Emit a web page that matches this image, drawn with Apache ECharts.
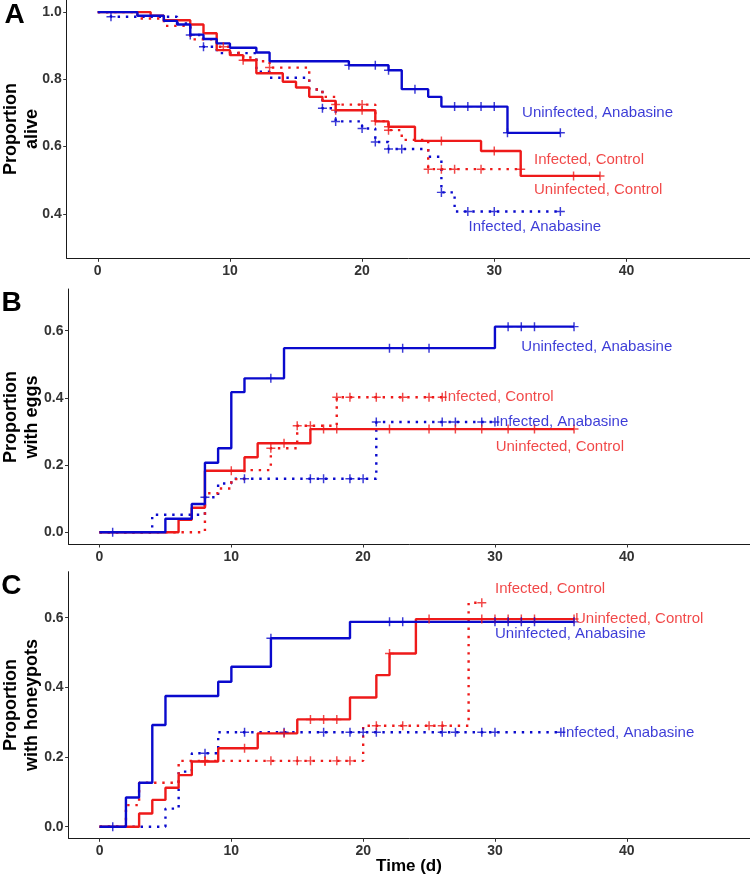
<!DOCTYPE html>
<html><head><meta charset="utf-8">
<script src="https://cdn.jsdelivr.net/npm/echarts/dist/echarts.min.js"></script>
<style>html,body{margin:0;padding:0;background:#fff}#c{width:750px;height:875px}</style>
</head><body><div id="c"></div>
<script>
// ---------- DATA ----------
const groupNames = ['Uninfected, Anabasine', 'Infected, Anabasine', 'Uninfected, Control', 'Infected, Control'];
const xTicks = [0, 10, 20, 30, 40];
const yTicksA = [0.4, 0.6, 0.8, 1.0];
const yTicksB = [0.0, 0.2, 0.4, 0.6];
const yTicksC = [0.0, 0.2, 0.4, 0.6];

// Panel A: proportion alive
const A_uninfAnab_t = [0, 3, 5, 6, 7, 8, 9, 10, 12, 13, 19, 22, 23, 25, 26, 31, 35];
const A_uninfAnab_s = [1.0, 0.989, 0.974, 0.963, 0.933, 0.920, 0.907, 0.894, 0.880, 0.854, 0.842, 0.827, 0.771, 0.748, 0.719, 0.641, 0.641];
const A_uninfAnab_c = [19, 21, 22, 24, 27, 28, 29, 30, 31, 35];
const A_infAnab_t = [0, 1, 6, 7, 8, 9, 12, 13, 16, 17, 18, 20, 21, 22, 25, 26, 27, 35];
const A_infAnab_s = [1.0, 0.986, 0.966, 0.932, 0.897, 0.878, 0.823, 0.805, 0.770, 0.714, 0.675, 0.654, 0.614, 0.593, 0.570, 0.464, 0.407, 0.407];
const A_infAnab_c = [1, 7, 8, 17, 18, 20, 21, 22, 23, 26, 28, 30, 35];
const A_uninfCtrl_t = [0, 4, 5, 7, 8, 9, 10, 11, 12, 14, 15, 16, 17, 18, 21, 22, 24, 29, 32, 38];
const A_uninfCtrl_s = [1.0, 0.989, 0.976, 0.963, 0.937, 0.887, 0.872, 0.857, 0.818, 0.793, 0.776, 0.748, 0.736, 0.708, 0.675, 0.659, 0.617, 0.587, 0.513, 0.513];
const A_uninfCtrl_c = [11, 18, 20, 22, 26, 30, 36, 38];
const A_infCtrl_t = [0, 3, 5, 7, 9, 10, 11, 12, 13, 16, 17, 18, 21, 22, 23, 25, 32];
const A_infCtrl_s = [1.0, 0.981, 0.959, 0.919, 0.897, 0.879, 0.865, 0.854, 0.835, 0.770, 0.748, 0.725, 0.676, 0.649, 0.620, 0.533, 0.533];
const A_infCtrl_c = [9.5, 13, 18, 20, 21, 22, 25, 26, 27, 29, 32];

// Panel B: proportion with eggs
const B_uninfAnab_t = [0, 5, 7, 8, 9, 10, 11, 14, 30, 36];
const B_uninfAnab_s = [0, 0.040, 0.084, 0.207, 0.250, 0.417, 0.458, 0.548, 0.612, 0.612];
const B_uninfAnab_c = [1, 13, 22, 23, 25, 31, 32, 33, 36];
const B_infAnab_t = [0, 4, 8, 9, 10, 21, 30];
const B_infAnab_s = [0, 0.052, 0.104, 0.145, 0.159, 0.328, 0.328];
const B_infAnab_c = [8, 11, 16, 17, 19, 20, 21, 26, 27, 29, 30];
const B_uninfCtrl_t = [0, 6, 7, 8, 11, 12, 16, 36];
const B_uninfCtrl_s = [0, 0.037, 0.073, 0.183, 0.223, 0.265, 0.307, 0.307];
const B_uninfCtrl_c = [10, 14, 17, 18, 22, 25, 27, 29, 31, 33, 36];
const B_infCtrl_t = [0, 8, 9, 10, 11, 13, 15, 18, 26];
const B_infCtrl_s = [0, 0.116, 0.130, 0.158, 0.185, 0.250, 0.317, 0.402, 0.402];
const B_infCtrl_c = [13, 15, 16, 18, 19, 21, 23, 25, 26];

// Panel C: proportion with honeypots
const C_uninfAnab_t = [0, 2, 3, 4, 5, 9, 10, 13, 19, 36];
const C_uninfAnab_s = [0, 0.084, 0.126, 0.292, 0.375, 0.416, 0.459, 0.541, 0.588, 0.588];
const C_uninfAnab_c = [1, 13, 22, 23, 30, 31, 32, 33, 36];
const C_infAnab_t = [0, 5, 6, 7, 9, 35];
const C_infAnab_s = [0, 0.052, 0.158, 0.211, 0.271, 0.271];
const C_infAnab_c = [8, 11, 14, 17, 19, 20, 21, 26, 27, 29, 30, 35];
const C_uninfCtrl_t = [0, 3, 4, 5, 6, 7, 9, 12, 15, 19, 21, 22, 24, 36];
const C_uninfCtrl_s = [0, 0.038, 0.077, 0.112, 0.148, 0.187, 0.225, 0.268, 0.308, 0.371, 0.435, 0.497, 0.596, 0.596];
const C_uninfCtrl_c = [8, 11, 14, 16, 17, 18, 22, 25, 29, 30, 31, 32, 33, 36];
const C_infCtrl_t = [0, 2, 3, 6, 20, 28, 29];
const C_infCtrl_s = [0, 0.062, 0.126, 0.189, 0.290, 0.643, 0.643];
const C_infCtrl_c = [8, 13, 15, 16, 18, 19, 21, 23, 25, 26, 29];

// Curve-end text labels (time, value)
const A_labelPos = [[32.1, 0.699], [28.05, 0.362], [33.0, 0.471], [33.0, 0.560]];
const B_labelPos = [[32.0, 0.552], [30.05, 0.328], [30.05, 0.253], [26.1, 0.402]];
const C_labelPos = [[30.0, 0.555], [35.06, 0.270], [36.07, 0.596], [30.0, 0.682]];

const yTitles = ['Proportion\nalive', 'Proportion\nwith eggs', 'Proportion\nwith honeypots'];
const panelLetters = ['A', 'B', 'C'];
const xTitle = 'Time (d)';

// ---------- BUILD ----------
const BLUE = '#0A0ACD', RED = '#EE1A1A';
const groupColor = [BLUE, BLUE, RED, RED];
const groupDotted = [false, true, false, true];
const FONT = '"Liberation Sans", Arial, Helvetica, sans-serif';

const panels = [
  {curves: [[A_uninfAnab_t, A_uninfAnab_s, A_uninfAnab_c], [A_infAnab_t, A_infAnab_s, A_infAnab_c], [A_uninfCtrl_t, A_uninfCtrl_s, A_uninfCtrl_c], [A_infCtrl_t, A_infCtrl_s, A_infCtrl_c]], labels: A_labelPos, yTicks: yTicksA, ymin: 0.268, ymax: 1.036},
  {curves: [[B_uninfAnab_t, B_uninfAnab_s, B_uninfAnab_c], [B_infAnab_t, B_infAnab_s, B_infAnab_c], [B_uninfCtrl_t, B_uninfCtrl_s, B_uninfCtrl_c], [B_infCtrl_t, B_infCtrl_s, B_infCtrl_c]], labels: B_labelPos, yTicks: yTicksB, ymin: -0.035, ymax: 0.724},
  {curves: [[C_uninfAnab_t, C_uninfAnab_s, C_uninfAnab_c], [C_infAnab_t, C_infAnab_s, C_infAnab_c], [C_uninfCtrl_t, C_uninfCtrl_s, C_uninfCtrl_c], [C_infCtrl_t, C_infCtrl_s, C_infCtrl_c]], labels: C_labelPos, yTicks: yTicksC, ymin: -0.0333, ymax: 0.732}
];
const grids = [
  {left: 66.7, top: 0, right: 0, height: 258.3},
  {left: 68.5, top: 289, right: 0, height: 255},
  {left: 68.6, top: 571.7, right: 0, height: 266.6}
];

function survAt(ts, ss, t) { let v = ss[0]; for (let i = 0; i < ts.length; i++) if (ts[i] <= t) v = ss[i]; return v; }
const PLUS = 'path://M0,3.35L8,3.35L8,4.65L0,4.65Z M3.35,0L4.65,0L4.65,8L3.35,8Z';
const drawOrder = [1, 3, 2, 0];

const xAxes = [], yAxes = [], series = [];
panels.forEach((p, pi) => {
  xAxes.push({
    gridIndex: pi, type: 'value', min: -2.35, max: 49.35,
    axisLine: {show: true, onZero: false, lineStyle: {color: '#1a1a1a', width: 1}},
    axisTick: {show: true, length: 3.5, customValues: xTicks, lineStyle: {color: '#333', width: 1}},
    axisLabel: {show: true, customValues: xTicks, margin: 6, color: '#333', fontWeight: 'bold', fontSize: 14, fontFamily: FONT, formatter: v => String(v)},
    splitLine: {show: false}
  });
  yAxes.push({
    gridIndex: pi, type: 'value', min: p.ymin, max: p.ymax,
    axisLine: {show: true, onZero: false, lineStyle: {color: '#1a1a1a', width: 1}},
    axisTick: {show: true, length: 3.5, customValues: p.yTicks, lineStyle: {color: '#333', width: 1}},
    axisLabel: {show: true, customValues: p.yTicks, margin: 5, color: '#333', fontWeight: 'bold', fontSize: 14, fontFamily: FONT, formatter: v => v.toFixed(1)},
    splitLine: {show: false}
  });
  drawOrder.forEach(gi => {
    const [ts, ss, cs] = p.curves[gi];
    series.push({
      type: 'line', xAxisIndex: pi, yAxisIndex: pi, step: 'end', showSymbol: false, symbol: 'none',
      data: ts.map((t, i) => [t, ss[i]]), z: 2, silent: true,
      lineStyle: {color: groupColor[gi], width: 2.4, type: groupDotted[gi] ? [2.4, 5.8] : 'solid', cap: 'butt'}
    });
  });
  drawOrder.forEach(gi => {
    const [ts, ss, cs] = p.curves[gi];
    series.push({
      type: 'scatter', xAxisIndex: pi, yAxisIndex: pi, symbol: PLUS, symbolSize: 9, z: 3, silent: true,
      itemStyle: {color: groupColor[gi]},
      data: cs.map(t => [t, survAt(ts, ss, t)])
    });
  });
  series.push({
    type: 'scatter', xAxisIndex: pi, yAxisIndex: pi, symbolSize: 0.1, z: 4, silent: true,
    itemStyle: {color: 'rgba(0,0,0,0)'},
    data: p.labels.map((pos, gi) => ({
      value: pos, name: groupNames[gi],
      label: {show: true, position: 'right', distance: 0, formatter: '{b}', color: groupColor[gi], fontSize: 15, fontFamily: FONT}
    }))
  });
});

const titleCenters = [129, 417, 705];
const letterPos = [[14.7, 15], [11.7, 303.5], [11.3, 586]];
const graphic = [];
panelLetters.forEach((L, i) => graphic.push({type: 'text', x: letterPos[i][0], y: letterPos[i][1], style: {text: L, fill: '#000', font: 'bold 28px ' + FONT, align: 'center', verticalAlign: 'middle'}}));
yTitles.forEach((T, i) => graphic.push({type: 'text', x: 22, y: titleCenters[i], rotation: Math.PI / 2, style: {text: T, fill: '#000', font: 'bold 18px ' + FONT, align: 'center', verticalAlign: 'middle', lineHeight: 21}}));
graphic.push({type: 'text', x: 409, y: 866, style: {text: xTitle, fill: '#000', font: 'bold 17px ' + FONT, align: 'center', verticalAlign: 'middle'}});

const chart = echarts.init(document.getElementById('c'), null, {renderer: 'canvas'});
chart.setOption({animation: false, backgroundColor: '#fff', grid: grids, xAxis: xAxes, yAxis: yAxes, series: series, graphic: graphic});
</script></body></html>
